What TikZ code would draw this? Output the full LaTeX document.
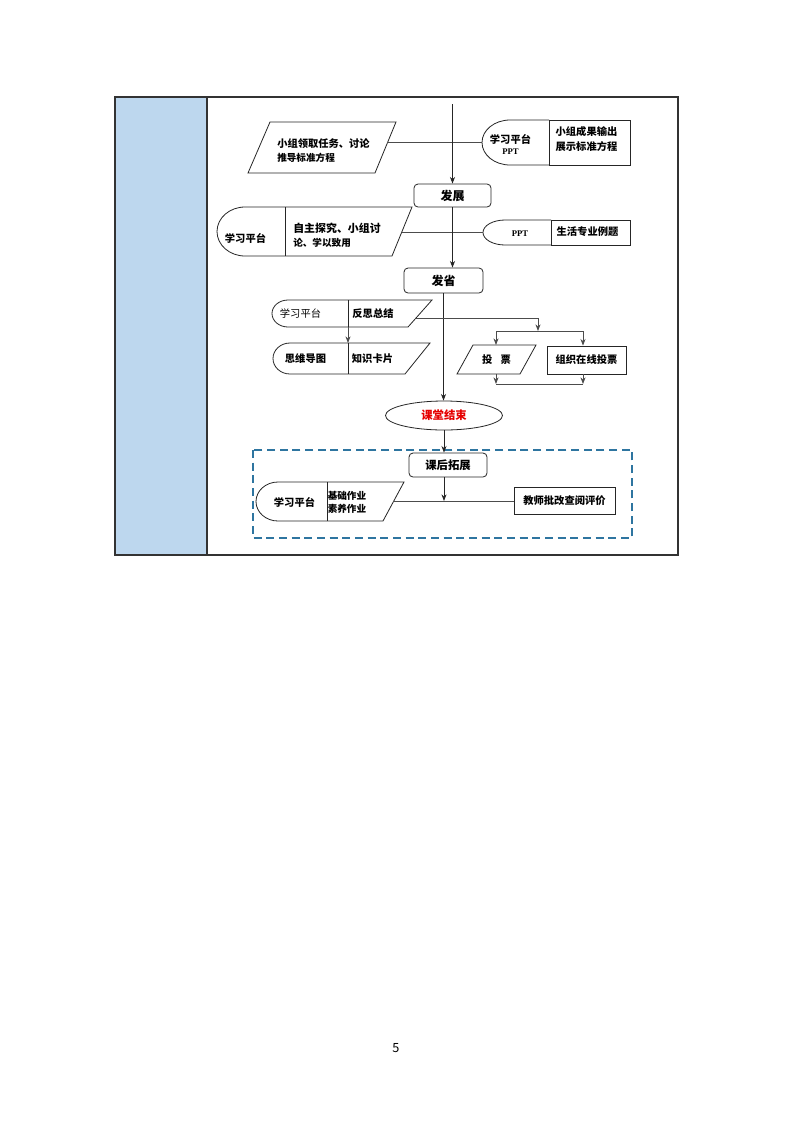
\documentclass[tikz,border=0pt]{standalone}
\usepackage{fontspec}
\setmainfont{Noto Sans CJK SC}
\newfontfamily\tnr{Liberation Serif}
\usetikzlibrary{arrows.meta,shapes.geometric}
\definecolor{colblue}{RGB}{189,215,238}
\definecolor{dashblue}{RGB}{46,117,160}
\definecolor{endred}{RGB}{230,0,0}
\begin{document}
\begin{tikzpicture}[x=0.75pt,y=-0.75pt,
  shp/.style={draw=black!85, line width=0.6pt},
  conn/.style={draw=black!70, line width=0.6pt},
  arr/.style={conn,-{Stealth[length=5pt,width=3.8pt]}},
  rbox/.style={draw=black!85, line width=0.6pt, rounded corners=3pt, inner sep=0pt, font=\fontsize{9}{10}\selectfont\bfseries},
  sbox/.style={draw=black!85, line width=0.6pt, inner sep=0pt, font=\fontsize{7.7}{9}\selectfont\bfseries},
  lbl/.style={inner sep=0pt, font=\fontsize{7.7}{9}\selectfont\bfseries},
  lbr/.style={inner sep=0pt, font=\fontsize{7.7}{9}\selectfont},
  sml/.style={inner sep=0pt, font=\fontsize{7.2}{8}\selectfont\bfseries},
  ppt/.style={inner sep=0pt, font=\fontsize{6.5}{8}\tnr\bfseries},
]
\useasboundingbox[fill=white] (0,0) rectangle (793,1122);

% table frame
\fill[colblue] (115,97) rectangle (207,555);
\draw[line width=1pt, black!80] (115,97) rectangle (678,555);
\draw[line width=1pt, black!80] (207,97) -- (207,555);

% main boxes
\coordinate (top) at (452.5,104);
\node[rbox, minimum width=77*0.75pt, minimum height=23*0.75pt] (fz) at (452.5,195.5) {发展};
\node[rbox, minimum width=79*0.75pt, minimum height=25*0.75pt] (fs) at (443.5,280.5) {发省};
\node[ellipse, draw=black!85, line width=0.6pt, inner sep=0pt, minimum width=117*0.75pt, minimum height=29*0.75pt, text=endred, font=\fontsize{8.5}{10}\selectfont\bfseries] (end) at (444,415.5) {课堂结束};
\node[rbox, minimum width=78*0.75pt, minimum height=24*0.75pt, font=\fontsize{8.5}{10}\selectfont\bfseries] (kh) at (448,465) {课后拓展};
\node[sbox, minimum width=79*0.75pt, minimum height=28*0.75pt] (zz) at (586.5,360) {组织在线投票};
\node[sbox, minimum width=101*0.75pt, minimum height=27*0.75pt] (js) at (564.5,501) {教师批改查阅评价};

% shape A: parallelogram
\draw[shp] (270,122) -- (396,122) -- (375,173) -- (248,173) -- cycle;
\coordinate (A) at (387,142.5);
\node[lbl, anchor=west] (a1) at (277,144) {小组领取任务、讨论};
\node[sml, anchor=west] (a2) at (277,158) {推导标准方程};

% shape B
\draw[shp] (549,120) -- (510,120) arc[start angle=270, end angle=90, x radius=28, y radius=22.5] -- (549,165);
\draw[shp] (549,120) rectangle (630,165);
\coordinate (B) at (482,142.5);
\node[lbl] (b1) at (510.5,139) {学习平台};
\node[ppt] (b2) at (510.5,152) {PPT};
\node[lbl] (b3) at (586.5,132) {小组成果输出};
\node[lbl] (b4) at (586.5,147) {展示标准方程};

% shape C
\draw[shp] (412,207) -- (245,207) arc[start angle=270, end angle=90, x radius=28, y radius=24.5] -- (392,256) -- cycle;
\draw[shp] (285,207) -- (285,256);
\coordinate (C) at (402,232.5);
\node[lbl] (c1) at (245.5,238) {学习平台};
\node[inner sep=0pt, font=\fontsize{8.2}{9}\selectfont\bfseries, anchor=west] (c2) at (293,228) {自主探究、小组讨};
\node[sml, anchor=west] (c3) at (293,243) {论、学以致用};

% shape D
\draw[shp] (551,220) -- (505,220) arc[start angle=270, end angle=90, x radius=22, y radius=12.5] -- (551,245);
\draw[shp] (551,220) rectangle (630,245);
\coordinate (D) at (483,232.5);
\node[ppt] (d1) at (520,234) {PPT};
\node[lbl] (d2) at (587.5,232) {生活专业例题};

% shape E
\draw[shp] (432,300) -- (288,300) arc[start angle=270, end angle=90, x radius=16, y radius=13.5] -- (408,327) -- cycle;
\draw[shp] (348,300) -- (348,327);
\coordinate (E) at (416,318);
\coordinate (Ebot) at (348,327);
\node[lbr] (e1) at (300.5,314) {学习平台};
\node[lbl] (e2) at (373,314) {反思总结};

% shape F
\draw[shp] (430,343) -- (290,343) arc[start angle=270, end angle=90, x radius=17, y radius=15.5] -- (405,374) -- cycle;
\draw[shp] (348,343) -- (348,374);
\coordinate (Ftop) at (348,343);
\node[lbl] (f1) at (305.5,359) {思维导图};
\node[lbl] (f2) at (372.5,359) {知识卡片};

% vote parallelogram
\draw[shp] (473,345) -- (536,345) -- (520,374) -- (457,374) -- cycle;
\coordinate (tpT) at (496,345);
\coordinate (tpB) at (496,374);
\node[lbl] (tp) at (496.5,360) {投\hspace{6pt}票};

% shape G
\draw[shp] (404,482) -- (278,482) arc[start angle=270, end angle=90, x radius=22, y radius=19.5] -- (383,521) -- cycle;
\draw[shp] (327,482) -- (327,521);
\coordinate (G) at (393,501);
\node[lbl] (g1) at (294.5,502) {学习平台};
\node[sml, anchor=west] (g2) at (327.5,496) {基础作业};
\node[sml, anchor=west] (g3) at (327.5,509) {素养作业};

% dashed frame
\draw[dashblue, line width=1.2pt, dash pattern=on 6pt off 3.5pt] (253,450) rectangle (632,538);

% helper coordinates
\coordinate (e1c) at (538,318);
\coordinate (sp) at (538,331);
\coordinate (sL) at (496,331);
\coordinate (sR) at (583,331);
\coordinate (mL) at (496,384);
\coordinate (mR) at (583,384);
\coordinate (hj) at (444,501);

% connectors
\draw[conn, line width=0.5pt] (A) -- (B);
\draw[conn, line width=0.5pt] (C) -- (D);
\draw[arr, black!85] (top) -- (top |- fz.north);
\draw[arr, black!85] (fz.south) -- (fz.south |- fs.north);
\draw[arr, black!85] (fs.south) -- (fs.south |- end.north);
\draw[arr, black!85] (end.south) -- (end.south |- kh.north);
\draw[arr] (Ebot) -- (Ftop);
\draw[conn] (E) -- (e1c);
\draw[arr] (e1c) -- (sp);
\draw[conn] (sL) -- (sR);
\draw[arr] (sL) -- (tpT);
\draw[arr] (sR) -- (sR |- zz.north);
\draw[arr] (tpB) -- (mL);
\draw[arr] (zz.south -| sR) -- (mR);
\draw[conn] (mL) -- (mR);
\draw[conn, line width=0.5pt] (G) -- (js.west);
\draw[arr, black!85] (kh.south -| hj) -- (hj);

% page number
\node[inner sep=0pt, font=\fontsize{9.5}{11}\selectfont] (pg) at (396,1048) {5};
\end{tikzpicture}
\end{document}
